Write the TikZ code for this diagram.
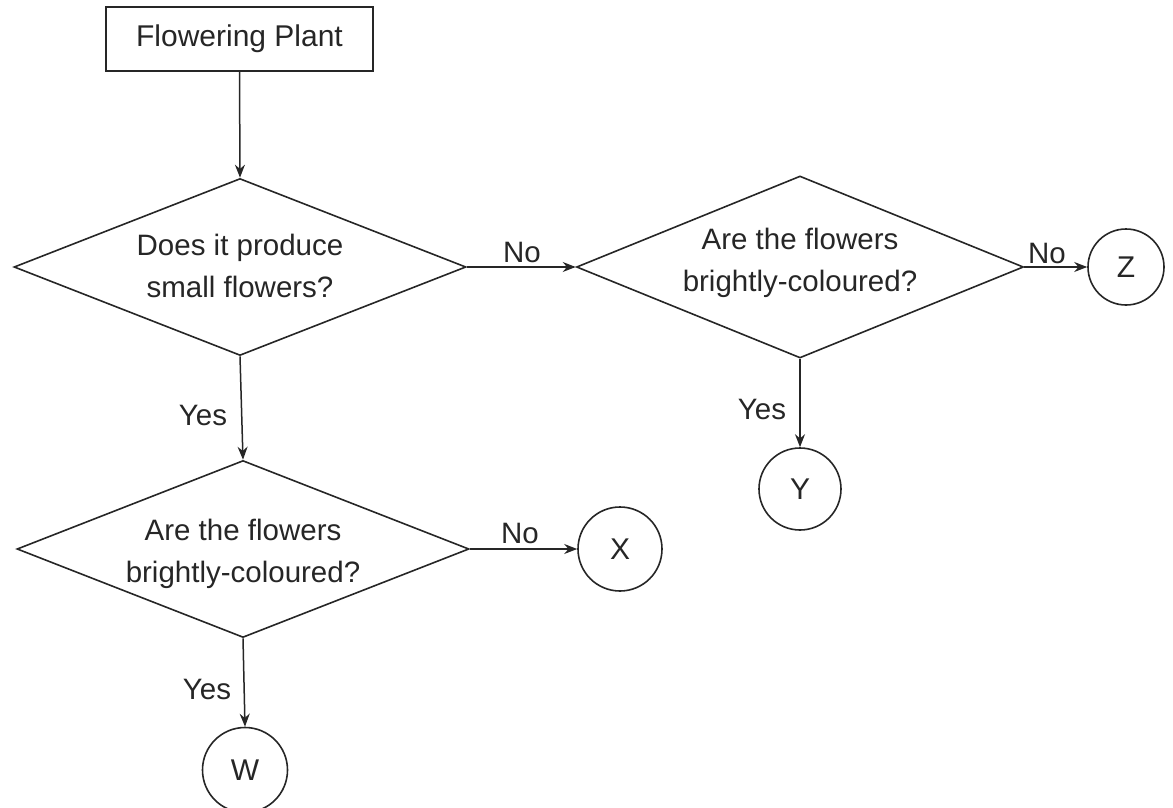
\documentclass[tikz,border=0pt]{standalone}
\usepackage{fontspec}
\setmainfont{Liberation Sans}
\usetikzlibrary{shapes.geometric,arrows.meta}
\definecolor{ink}{gray}{0.15}
\begin{document}
\begin{tikzpicture}[x=1pt,y=-1pt,
  every node/.style={text=ink},
  box/.style={draw=ink,line width=1.6pt,rectangle,minimum width=267pt,minimum height=64pt,inner sep=0pt,font=\fontsize{30}{36}\selectfont},
  dia/.style={draw=ink,line width=1.6pt,diamond,inner sep=0pt,minimum width=452pt,minimum height=177pt},
  qtext/.style={align=center,font=\fontsize{29.5}{42}\selectfont,inner sep=0pt},
  endpt/.style={draw=ink,line width=1.6pt,circle,inner sep=0pt,font=\fontsize{30}{36}\selectfont},
  lbl/.style={font=\fontsize{29.5}{34}\selectfont,inner sep=0pt},
  arr/.style={draw=ink,line width=1.5pt,-{Stealth[length=13pt,width=10pt]}}]
\useasboundingbox (0,0) rectangle (1173,808);
\node[box] (plant) at (239.5,39) {Flowering Plant};
\node[dia] (d1) at (240,267) {};
\node[qtext] (t1) at (240,266) {Does it produce\\small flowers?};
\node[dia,minimum width=447pt,minimum height=182pt] (d2) at (800,267) {};
\node[qtext] (t2) at (800,263) {Are the flowers\\brightly-coloured?};
\node[dia] (d3) at (243,549) {};
\node[qtext] (t3) at (243,554) {Are the flowers\\brightly-coloured?};
\node[endpt,minimum size=76pt] (Z) at (1126,267) {Z};
\node[endpt,minimum size=82pt] (Y) at (800,489) {Y};
\node[endpt,minimum size=84pt] (X) at (620,549) {X};
\node[endpt,minimum size=85pt] (W) at (245,770) {W};
\draw[arr] (plant.south) -- (d1.north);
\draw[arr] (d1.east) -- (d2.west);
\draw[arr] (d2.east) -- (Z.west);
\draw[arr] (d2.south) -- (Y.north);
\draw[arr] (d1.south) -- (d3.north);
\draw[arr] (d3.east) -- (X.west);
\draw[arr] (d3.south) -- (W.north);
\node[lbl] (n1) at (522,252) {No};
\node[lbl] (n2) at (1047,253) {No};
\node[lbl] (n3) at (520,533) {No};
\node[lbl] (y1) at (762,409) {Yes};
\node[lbl] (y2) at (203,415) {Yes};
\node[lbl] (y3) at (207,689) {Yes};
\end{tikzpicture}
\end{document}
